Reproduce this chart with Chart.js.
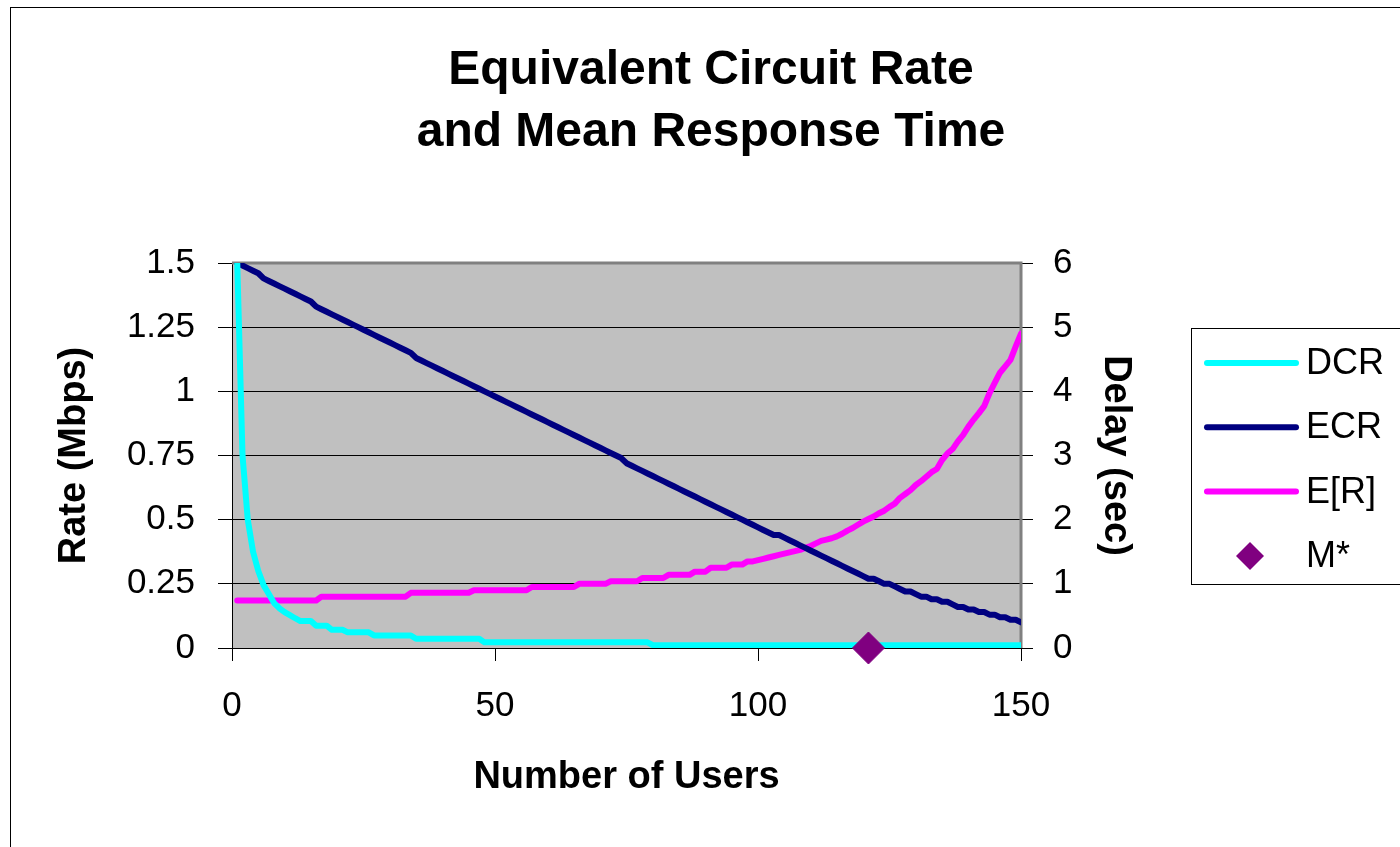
<!DOCTYPE html>
<html>
<head>
<meta charset="utf-8">
<title>Equivalent Circuit Rate and Mean Response Time</title>
<script src="https://cdn.jsdelivr.net/npm/chart.js@4.4.1/dist/chart.umd.min.js"></script>
<style>
    html, body { margin: 0; padding: 0; background: #fff; }
    #wrap { width: 1400px; height: 847px; position: relative; }
</style>
</head>
<body>
<div id="wrap"><canvas id="rateChart"></canvas></div>
<script>
// x axis: number of users, one point per user
const users = Array.from({ length: 150 }, (_, i) => i + 1);

// Rate (Mbps), left axis
const dcr = [
    1.5, 0.75, 0.5, 0.375, 0.3, 0.245, 0.21, 0.175, 0.155, 0.14,
    0.128, 0.116, 0.105, 0.105, 0.105, 0.087, 0.087, 0.087, 0.071, 0.071,
    0.071, 0.061, 0.061, 0.061, 0.061, 0.061, 0.049, 0.049, 0.049, 0.049,
    0.049, 0.049, 0.049, 0.049, 0.036, 0.036, 0.036, 0.036, 0.036, 0.036,
    0.036, 0.036, 0.036, 0.036, 0.036, 0.036, 0.036, 0.022, 0.022, 0.022,
    0.022, 0.022, 0.022, 0.022, 0.022, 0.022, 0.022, 0.022, 0.022, 0.022,
    0.022, 0.022, 0.022, 0.022, 0.022, 0.022, 0.022, 0.022, 0.022, 0.022,
    0.022, 0.022, 0.022, 0.022, 0.022, 0.022, 0.022, 0.022, 0.022, 0.011,
    0.011, 0.011, 0.011, 0.011, 0.011, 0.011, 0.011, 0.011, 0.011, 0.011,
    0.011, 0.011, 0.011, 0.011, 0.011, 0.011, 0.011, 0.011, 0.011, 0.011,
    0.011, 0.011, 0.011, 0.011, 0.011, 0.011, 0.011, 0.011, 0.011, 0.011,
    0.011, 0.011, 0.011, 0.011, 0.011, 0.011, 0.011, 0.011, 0.011, 0.011,
    0.011, 0.011, 0.011, 0.011, 0.011, 0.011, 0.011, 0.011, 0.011, 0.011,
    0.011, 0.011, 0.011, 0.011, 0.011, 0.011, 0.011, 0.011, 0.011, 0.011,
    0.011, 0.011, 0.011, 0.011, 0.011, 0.011, 0.011, 0.011, 0.011, 0.011
];

const ecr = [
    1.50, 1.49, 1.48, 1.47, 1.46, 1.44, 1.43, 1.42, 1.41, 1.40,
    1.39, 1.38, 1.37, 1.36, 1.35, 1.33, 1.32, 1.31, 1.30, 1.29,
    1.28, 1.27, 1.26, 1.25, 1.24, 1.23, 1.22, 1.21, 1.20, 1.19,
    1.18, 1.17, 1.16, 1.15, 1.13, 1.12, 1.11, 1.10, 1.09, 1.08,
    1.07, 1.06, 1.05, 1.04, 1.03, 1.02, 1.01, 1.00, 0.99, 0.98,
    0.97, 0.96, 0.95, 0.94, 0.93, 0.92, 0.91, 0.90, 0.89, 0.88,
    0.87, 0.86, 0.85, 0.84, 0.83, 0.82, 0.81, 0.80, 0.79, 0.78,
    0.77, 0.76, 0.75, 0.74, 0.72, 0.71, 0.70, 0.69, 0.68, 0.67,
    0.66, 0.65, 0.64, 0.63, 0.62, 0.61, 0.60, 0.59, 0.58, 0.57,
    0.56, 0.55, 0.54, 0.53, 0.52, 0.51, 0.50, 0.49, 0.48, 0.47,
    0.46, 0.45, 0.44, 0.44, 0.43, 0.42, 0.41, 0.40, 0.39, 0.38,
    0.37, 0.36, 0.35, 0.34, 0.33, 0.32, 0.31, 0.30, 0.29, 0.28,
    0.27, 0.27, 0.26, 0.25, 0.25, 0.24, 0.23, 0.22, 0.22, 0.21,
    0.20, 0.20, 0.19, 0.19, 0.18, 0.18, 0.17, 0.16, 0.16, 0.15,
    0.15, 0.14, 0.14, 0.13, 0.13, 0.12, 0.12, 0.11, 0.11, 0.10
];

// Delay (sec), right axis
const er = [
    0.74, 0.74, 0.74, 0.74, 0.74, 0.74, 0.74, 0.74, 0.74, 0.74,
    0.74, 0.74, 0.74, 0.74, 0.74, 0.74, 0.80, 0.80, 0.80, 0.80,
    0.80, 0.80, 0.80, 0.80, 0.80, 0.80, 0.80, 0.80, 0.80, 0.80,
    0.80, 0.80, 0.80, 0.86, 0.86, 0.86, 0.86, 0.86, 0.86, 0.86,
    0.86, 0.86, 0.86, 0.86, 0.86, 0.90, 0.90, 0.90, 0.90, 0.90,
    0.90, 0.90, 0.90, 0.90, 0.90, 0.90, 0.95, 0.95, 0.95, 0.95,
    0.95, 0.95, 0.95, 0.95, 0.95, 1.00, 1.00, 1.00, 1.00, 1.00,
    1.00, 1.04, 1.04, 1.04, 1.04, 1.04, 1.04, 1.09, 1.09, 1.09,
    1.09, 1.09, 1.14, 1.14, 1.14, 1.14, 1.14, 1.19, 1.19, 1.19,
    1.25, 1.25, 1.25, 1.25, 1.30, 1.30, 1.30, 1.35, 1.35, 1.37,
    1.39, 1.41, 1.43, 1.45, 1.47, 1.49, 1.51, 1.53, 1.56, 1.59,
    1.63, 1.67, 1.69, 1.71, 1.74, 1.78, 1.83, 1.87, 1.92, 1.97,
    2.01, 2.05, 2.10, 2.14, 2.20, 2.25, 2.34, 2.40, 2.46, 2.54,
    2.60, 2.67, 2.74, 2.79, 2.93, 3.03, 3.10, 3.22, 3.32, 3.45,
    3.56, 3.66, 3.77, 3.97, 4.13, 4.29, 4.39, 4.49, 4.70, 4.90
];

const mStar = [{ x: 121, y: 0 }];

const xTicks = [0, 50, 100, 150];
const rateTicks = [0, 0.25, 0.5, 0.75, 1, 1.25, 1.5];
const delayTicks = [0, 1, 2, 3, 4, 5, 6];

const titleLines = ['Equivalent Circuit Rate', 'and Mean Response Time'];

const FONT = "'Liberation Sans', Arial, Helvetica, sans-serif";

Chart.defaults.font.family = FONT;
Chart.defaults.color = '#000';

const excelLook = {
    id: 'excelLook',
    beforeDraw(chart) {
        const { ctx, chartArea: a } = chart;
        ctx.save();
        ctx.fillStyle = '#c0c0c0';
        ctx.fillRect(a.left, a.top, a.right - a.left, a.bottom - a.top);

        ctx.strokeStyle = '#000';
        ctx.lineWidth = 1;
        ctx.strokeRect(10.5, 7.5, 1600, 1000);

        ctx.fillStyle = '#000';
        ctx.font = 'bold 48px ' + FONT;
        ctx.textAlign = 'center';
        ctx.textBaseline = 'middle';
        titleLines.forEach((t, i) => ctx.fillText(t, 711, 71 + i * 62));
        ctx.restore();
    },
    beforeDatasetsDraw(chart) {
        const { ctx, chartArea: a } = chart;
        ctx.save();
        ctx.strokeStyle = '#808080';
        ctx.lineWidth = 3;
        ctx.beginPath();
        ctx.moveTo(a.left, a.top);
        ctx.lineTo(a.right, a.top);
        ctx.lineTo(a.right, a.bottom);
        ctx.stroke();
        ctx.restore();
    },
    afterDraw(chart) {
        const { ctx } = chart;
        ctx.save();
        ctx.strokeStyle = '#000';
        ctx.lineWidth = 1;
        ctx.strokeRect(1191.5, 328.5, 300, 256);

        ctx.font = '36px ' + FONT;
        ctx.textAlign = 'left';
        ctx.textBaseline = 'middle';

        chart.data.datasets.forEach((ds, i) => {
            const y = 363 + i * 64.3;
            if (ds.showLine === false) {
                ctx.fillStyle = ds.pointBackgroundColor;
                ctx.beginPath();
                ctx.moveTo(1250 - 14, y);
                ctx.lineTo(1250, y - 14);
                ctx.lineTo(1250 + 14, y);
                ctx.lineTo(1250, y + 14);
                ctx.closePath();
                ctx.fill();
            } else {
                ctx.strokeStyle = ds.borderColor;
                ctx.lineWidth = 6;
                ctx.lineCap = 'round';
                ctx.beginPath();
                ctx.moveTo(1207, y);
                ctx.lineTo(1296, y);
                ctx.stroke();
            }
            ctx.fillStyle = '#000';
            ctx.fillText(ds.label, 1306, y + 1);
        });
        ctx.restore();
    }
};

const ctx = document.getElementById('rateChart');

new Chart(ctx, {
    type: 'line',
    data: {
        labels: users,
        datasets: [
            {
                label: 'DCR',
                data: dcr,
                yAxisID: 'y',
                borderColor: '#00ffff',
                borderWidth: 6,
                pointRadius: 0,
                borderJoinStyle: 'round',
                borderCapStyle: 'round'
            },
            {
                label: 'ECR',
                data: ecr,
                yAxisID: 'y',
                borderColor: '#000080',
                borderWidth: 6,
                pointRadius: 0,
                borderJoinStyle: 'round',
                borderCapStyle: 'round'
            },
            {
                label: 'E[R]',
                data: er,
                yAxisID: 'y1',
                borderColor: '#ff00ff',
                borderWidth: 6,
                pointRadius: 0,
                borderJoinStyle: 'round',
                borderCapStyle: 'round'
            },
            {
                label: 'M*',
                data: mStar,
                yAxisID: 'y',
                showLine: false,
                pointStyle: 'rectRot',
                pointRadius: 16,
                pointBorderWidth: 1,
                pointBackgroundColor: '#800080',
                pointBorderColor: '#800080',
                backgroundColor: '#800080',
                borderColor: '#800080',
                clip: false,
                order: -1
            }
        ]
    },
    options: {
        responsive: true,
        maintainAspectRatio: false,
        animation: false,
        events: [],
        layout: {
            padding: { top: 263, left: 0, right: 209, bottom: 0 }
        },
        plugins: {
            legend: { display: false },
            title: { display: false },
            tooltip: { enabled: false }
        },
        scales: {
            x: {
                type: 'linear',
                min: 0,
                max: 150,
                afterBuildTicks: s => { s.ticks = xTicks.map(v => ({ value: v })); },
                afterFit: s => { s.height = 199; },
                grid: { drawOnChartArea: false, tickLength: 13, color: '#000', tickColor: '#000' },
                border: { display: true, color: '#000', width: 1 },
                ticks: { font: { size: 35 }, padding: 24, maxRotation: 0, callback: v => String(v) },
                title: {
                    display: true,
                    text: 'Number of Users',
                    font: { size: 38, weight: 'bold' },
                    padding: { top: 0, bottom: 47 }
                }
            },
            y: {
                position: 'left',
                min: 0,
                max: 1.5,
                afterBuildTicks: s => { s.ticks = rateTicks.map(v => ({ value: v })); },
                afterFit: s => { s.width = 232; },
                grid: { color: '#000', lineWidth: 1, tickLength: 14, tickColor: '#000' },
                border: { display: true, color: '#000', width: 1 },
                ticks: { font: { size: 35 }, padding: 23, callback: v => String(v) },
                title: {
                    display: true,
                    text: 'Rate (Mbps)',
                    font: { size: 38, weight: 'bold' },
                    padding: { top: 52, bottom: 0 }
                }
            },
            y1: {
                position: 'right',
                min: 0,
                max: 6,
                afterBuildTicks: s => { s.ticks = delayTicks.map(v => ({ value: v })); },
                afterFit: s => { s.width = 170; },
                grid: { drawOnChartArea: false, tickLength: 12, color: '#000', tickColor: '#000' },
                border: { display: true, color: '#000', width: 1 },
                ticks: { font: { size: 35 }, padding: 20, callback: v => String(v) },
                title: {
                    display: true,
                    text: 'Delay (sec)',
                    font: { size: 38, weight: 'bold' },
                    padding: { top: 53, bottom: 0 }
                }
            }
        }
    },
    plugins: [excelLook]
});
</script>
</body>
</html>
